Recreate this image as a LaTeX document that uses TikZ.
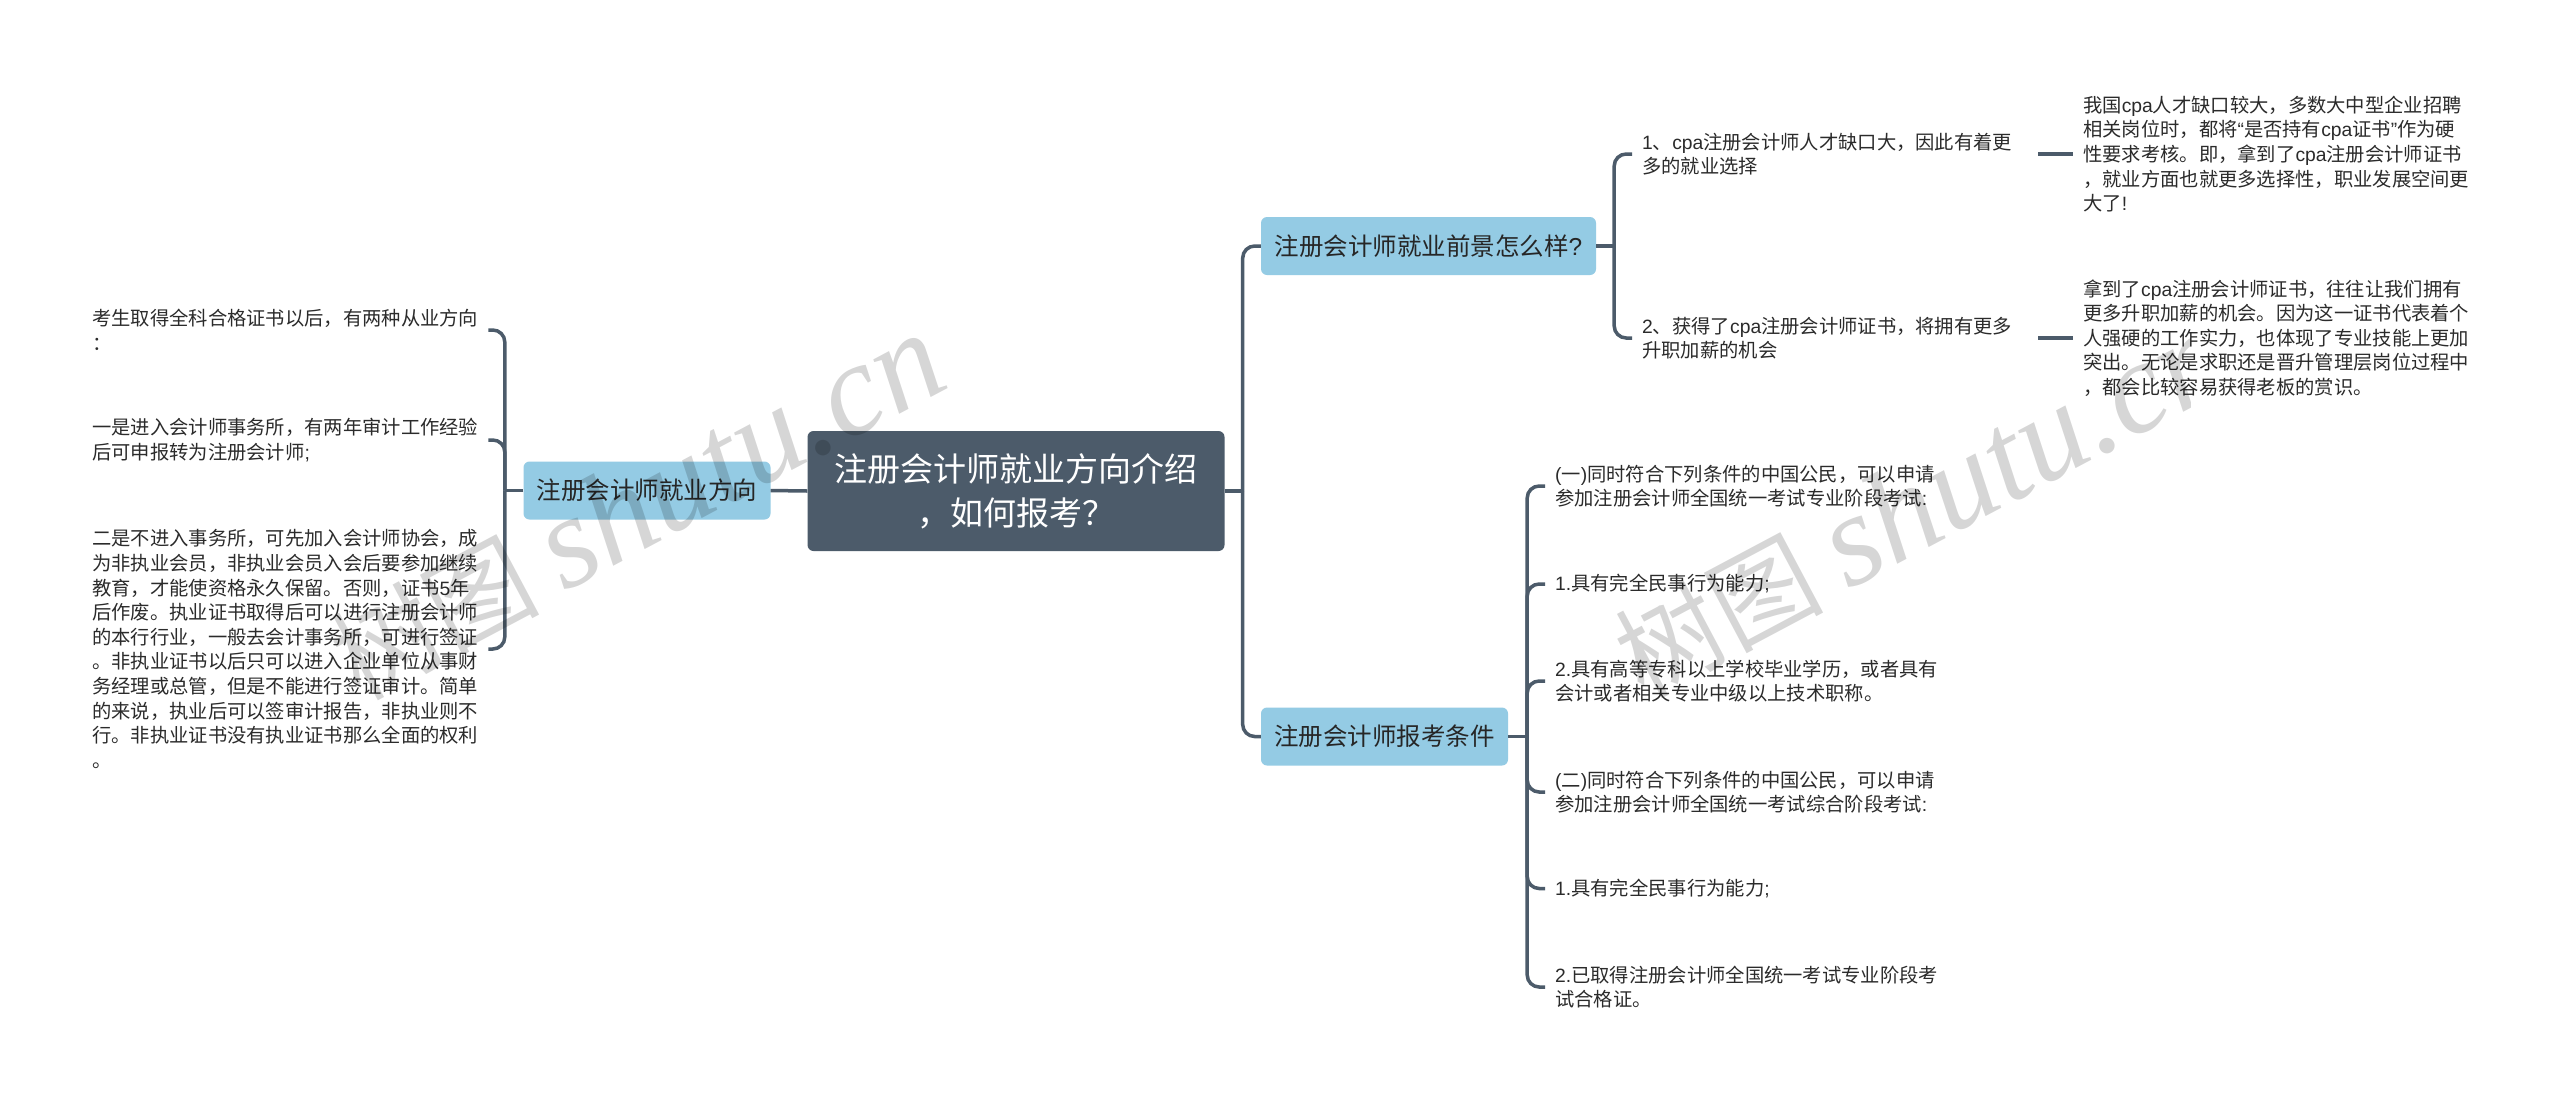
\documentclass[tikz,border=0pt]{standalone}
\usepackage{fontspec}
\setmainfont{Noto Sans CJK SC}
\newfontfamily\wmlatin{Liberation Serif}
\newfontfamily\wmcjk{Noto Sans CJK SC}
\newfontfamily\qf{Liberation Sans}
\newcommand\la[1]{{\qf #1}}
\definecolor{rootfill}{HTML}{4C5B6A}
\definecolor{linec}{HTML}{4C5B6A}
\definecolor{subfill}{HTML}{94CBE4}
\definecolor{txt}{HTML}{2B2B2B}
\tikzset{
  rootbox/.style={draw=none,fill=rootfill,rounded corners=6pt,text=white,align=center,inner sep=0pt,font=\fontsize{33}{44}\selectfont},
  subbox/.style={draw=none,fill=subfill,rounded corners=6pt,text=black!85,align=center,inner sep=0pt,font=\fontsize{24.5}{30}\selectfont},
  leaf/.style={anchor=west,text=txt,align=left,text width=386pt,inner xsep=10pt,inner ysep=0pt,font=\fontsize{19.3}{24.6}\selectfont},
  conn/.style={draw=linec,line width=3.5pt},
  curve/.style={conn,rounded corners=12pt},
  wmark/.style={text=black,text opacity=0.16,rotate=28,inner sep=0pt,font=\fontsize{104}{112}\selectfont}
}
\begin{document}
\begin{tikzpicture}[x=1pt,y=-1pt]
\useasboundingbox (0,0) rectangle (2560,1104);
\fill[white] (0,0) rectangle (2560,1104);
% main nodes
\node[rootbox,minimum width=417pt,minimum height=120pt] (root) at (1016,491) {注册会计师就业方向介绍\\，如何报考？};
\node[subbox,minimum width=247pt,minimum height=58pt] (L) at (647,490.5) {注册会计师就业方向};
\node[subbox,minimum width=335pt,minimum height=58pt] (A) at (1428.5,246) {注册会计师就业前景怎么样\la{?}};
\node[subbox,minimum width=247pt,minimum height=58pt] (B) at (1384.5,736.5) {注册会计师报考条件};
% left leaves
\node[leaf] (L1) at (82,330) {考生取得全科合格证书以后，有两种从业方向\\：};
\node[leaf] (L2) at (82,440) {一是进入会计师事务所，有两年审计工作经验\\后可申报转为注册会计师\la{;}};
\node[leaf] (L3) at (82,649) {二是不进入事务所，可先加入会计师协会，成\\为非执业会员，非执业会员入会后要参加继续\\教育，才能使资格永久保留。否则，证书\la{5}年\\后作废。执业证书取得后可以进行注册会计师\\的本行行业，一般去会计事务所，可进行签证\\。非执业证书以后只可以进入企业单位从事财\\务经理或总管，但是不能进行签证审计。简单\\的来说，执业后可以签审计报告，非执业则不\\行。非执业证书没有执业证书那么全面的权利\\。};
% A leaves
\node[leaf] (A1) at (1632,154) {\la{1}、\la{cpa}注册会计师人才缺口大，因此有着更\\多的就业选择};
\node[leaf] (A2) at (1632,338) {\la{2}、获得了\la{cpa}注册会计师证书，将拥有更多\\升职加薪的机会};
\node[leaf] (A1d) at (2073,154) {我国\la{cpa}人才缺口较大，多数大中型企业招聘\\相关岗位时，都将\la{“}是否持有\la{cpa}证书\la{”}作为硬\\性要求考核。即，拿到了\la{cpa}注册会计师证书\\，就业方面也就更多选择性，职业发展空间更\\大了\la{!}};
\node[leaf] (A2d) at (2073,338) {拿到了\la{cpa}注册会计师证书，往往让我们拥有\\更多升职加薪的机会。因为这一证书代表着个\\人强硬的工作实力，也体现了专业技能上更加\\突出。无论是求职还是晋升管理层岗位过程中\\，都会比较容易获得老板的赏识。};
% B leaves
\node[leaf] (B1) at (1545,486) {\la{(}一\la{)}同时符合下列条件的中国公民，可以申请\\参加注册会计师全国统一考试专业阶段考试\la{:}};
\node[leaf] (B2) at (1545,584) {\la{1.}具有完全民事行为能力\la{;}};
\node[leaf] (B3) at (1545,681) {\la{2.}具有高等专科以上学校毕业学历，或者具有\\会计或者相关专业中级以上技术职称。};
\node[leaf] (B4) at (1545,792) {\la{(}二\la{)}同时符合下列条件的中国公民，可以申请\\参加注册会计师全国统一考试综合阶段考试\la{:}};
\node[leaf] (B5) at (1545,888.5) {\la{1.}具有完全民事行为能力\la{;}};
\node[leaf] (B6) at (1545,987) {\la{2.}已取得注册会计师全国统一考试专业阶段考\\试合格证。};
% connectors
\draw[conn] (root.west) -- (L.east);
\draw[conn] (root.east) -- ++(18,0) coordinate (rt);
\draw[curve] (rt) |- (A.west);
\draw[curve] (rt) |- (B.west);
\draw[conn] (L.west) -- ++(-18.5,0) coordinate (lt);
\foreach \n in {L1,L2,L3}{\draw[curve] (lt) |- (\n.east);}
\draw[conn] (A.east) -- ++(18,0) coordinate (at);
\foreach \n in {A1,A2}{\draw[curve] (at) |- (\n.west);}
\draw[conn] (B.east) -- ++(19,0) coordinate (bt);
\foreach \n in {B1,B2,B3,B4,B5,B6}{\draw[curve] (bt) |- (\n.west);}
\draw[conn] (A1.east) -- (A1d.west);
\draw[conn] (A2.east) -- (A2d.west);
% watermarks, laid over everything
\node[wmark] (wm1) at (637,507) {\wmcjk 树图 {\wmlatin\itshape\fontsize{131}{131}\selectfont shutu.cn}};
\begin{scope}
\clip (1500,0) rectangle (2190,1104);
\node[wmark] (wm2) at (1921,505) {\wmcjk 树图 {\wmlatin\itshape\fontsize{131}{131}\selectfont shutu.cn}};
\end{scope}
\end{tikzpicture}
\end{document}
